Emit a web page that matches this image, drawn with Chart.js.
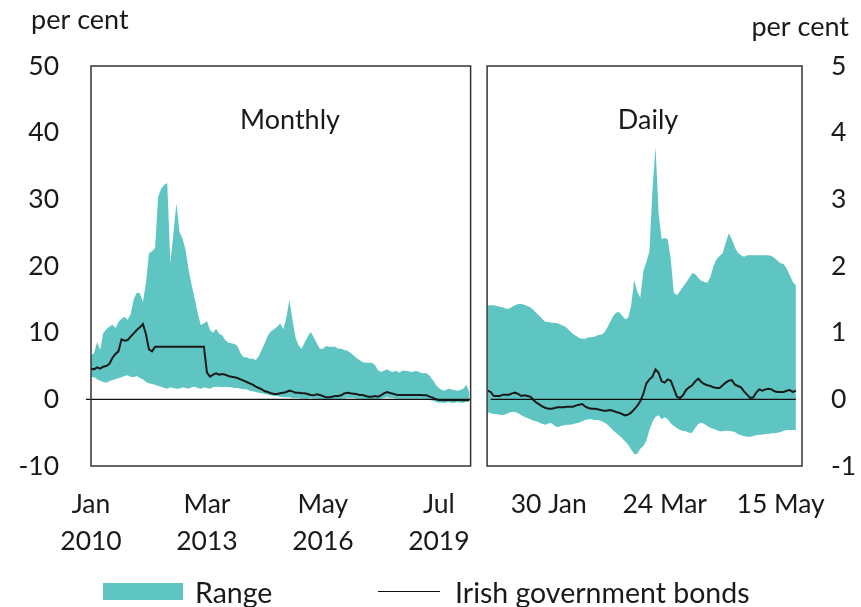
<!DOCTYPE html>
<html>
<head>
<meta charset="utf-8">
<script src="https://cdn.jsdelivr.net/npm/chart.js@4.4.1/dist/chart.umd.min.js"></script>
<style>
  body { margin: 0; background: #fff; font-family: Lato, sans-serif; color: #1a1a1a; }
  #wrap { position: relative; width: 861px; height: 607px; }
  .legend { position: absolute; left: 0; top: 578px; width: 861px; height: 28px; font-size: 28.5px; }
  .legend span { position: absolute; top: 0; line-height: 28px; }
  .box { position: absolute; left: 103px; top: 5px; width: 80px; height: 17px; background: #5ec5c2; }
  .line { position: absolute; left: 378px; top: 13px; width: 62px; height: 0; border-top: 1.5px solid #111; }
</style>
</head>
<body>
<div id="wrap">
  <canvas id="myChart"></canvas>
  <div class="legend">
    <div class="box"></div><span style="left:195px">Range</span>
    <div class="line"></div><span style="left:455px">Irish government bonds</span>
  </div>
</div>
<script>
// monthly, Jan 2010 - May 2020 (per cent, left axis)
const monthlyUpper = [
  6.6, 6.9, 8.6, 7.4, 9.9, 10.5, 10.9, 11.2, 10.7, 11.6, 12.1, 12.4, 11.9, 12.8, 15.0, 16.0, 15.9, 14.6, 17.4, 21.9,
  22.2, 22.7, 30.4, 31.6, 32.2, 32.4, 20.4, 24.9, 29.4, 25.1, 24.1, 22.4, 19.4, 17.1, 15.1, 12.9, 11.1, 11.4, 11.7, 10.4,
  10.0, 10.6, 9.8, 9.6, 8.9, 8.5, 8.4, 8.3, 8.0, 6.9, 6.3, 6.3, 6.1, 6.1, 5.9, 6.5, 7.5, 8.5, 9.6, 10.2,
  10.5, 10.9, 11.4, 10.5, 12.2, 14.9, 12.0, 9.3, 8.1, 7.6, 8.5, 9.4, 10.1, 9.3, 8.4, 7.6, 7.6, 8.0, 7.9, 7.9,
  7.9, 7.6, 7.6, 7.4, 7.3, 7.0, 6.6, 6.2, 5.9, 5.6, 5.5, 5.5, 5.5, 5.2, 4.4, 4.1, 4.3, 4.5, 4.2, 4.1,
  4.3, 4.0, 4.3, 4.3, 4.2, 4.1, 4.2, 4.2, 4.0, 3.9, 3.9, 3.5, 2.9, 2.2, 1.7, 1.4, 1.3, 1.6, 1.5, 1.4,
  1.3, 1.4, 1.6, 2.2, 1.0
]
const monthlyLower = [
  3.4, 3.3, 3.0, 2.8, 2.6, 2.5, 2.7, 2.9, 3.0, 3.2, 3.3, 3.5, 3.6, 3.4, 3.3, 3.5, 3.2, 3.0, 2.6, 2.4,
  2.3, 2.2, 2.0, 1.9, 1.7, 1.6, 1.8, 1.7, 1.6, 1.6, 1.8, 1.7, 1.6, 1.8, 1.9, 1.7, 1.6, 1.8, 1.7, 1.6,
  1.8, 1.9, 1.9, 1.8, 1.9, 1.8, 1.8, 1.7, 1.7, 1.6, 1.5, 1.5, 1.3, 1.2, 1.1, 1.0, 0.9, 0.8, 0.7, 0.6,
  0.5, 0.5, 0.4, 0.3, 0.3, 0.3, 0.2, 0.2, 0.2, 0.1, 0.1, 0.1, 0.2, 0.1, 0.1, 0.0, 0.0, 0.0, 0.0, -0.1,
  -0.1, -0.1, 0.1, 0.1, 0.2, 0.2, 0.2, 0.1, 0.1, 0.1, 0.0, 0.0, 0.0, 0.0, 0.0, 0.1, 0.2, 0.3, 0.2, 0.2,
  0.1, 0.1, 0.1, 0.1, 0.1, 0.1, 0.1, 0.1, 0.1, 0.1, 0.0, -0.1, -0.2, -0.4, -0.5, -0.5, -0.5, -0.4, -0.5, -0.5,
  -0.4, -0.5, -0.5, -0.4, -0.4
]
const monthlyIrish = [
  4.6, 4.5, 4.8, 4.6, 4.9, 5.0, 5.3, 6.2, 6.8, 7.2, 9.0, 8.8, 8.9, 9.4, 9.9, 10.4, 10.8, 11.3, 9.8, 7.5,
  7.2, 7.9, 7.9, 7.9, 7.9, 7.9, 7.9, 7.9, 7.9, 7.9, 7.9, 7.9, 7.9, 7.9, 7.9, 7.9, 7.9, 7.9, 4.0, 3.4,
  3.7, 3.9, 3.7, 3.8, 3.7, 3.5, 3.4, 3.3, 3.2, 3.0, 2.8, 2.6, 2.4, 2.2, 1.9, 1.7, 1.5, 1.2, 1.1, 0.9,
  0.8, 0.8, 0.9, 1.0, 1.1, 1.3, 1.2, 1.0, 1.0, 0.9, 0.9, 0.8, 0.65, 0.6, 0.75, 0.65, 0.5, 0.3, 0.3, 0.4,
  0.5, 0.5, 0.6, 0.9, 1.0, 0.9, 0.85, 0.8, 0.65, 0.65, 0.5, 0.4, 0.4, 0.5, 0.4, 0.6, 0.9, 1.1, 0.95, 0.85,
  0.7, 0.65, 0.65, 0.65, 0.65, 0.65, 0.65, 0.65, 0.65, 0.6, 0.6, 0.4, 0.25, 0.0, -0.1, -0.1, -0.15, -0.1, -0.1, -0.15,
  -0.1, -0.1, -0.15, -0.1, -0.1
]

// daily, 2 Jan - 22 May 2020, business days (per cent, right axis)
const dailyUpper = [
  1.41, 1.41, 1.41, 1.40, 1.39, 1.38, 1.36, 1.36, 1.39, 1.41, 1.43, 1.43, 1.42, 1.40, 1.38, 1.34, 1.29, 1.25, 1.20, 1.16,
  1.16, 1.15, 1.15, 1.14, 1.12, 1.10, 1.07, 1.02, 0.98, 0.95, 0.92, 0.91, 0.91, 0.93, 0.93, 0.94, 0.96, 0.97, 0.99, 1.06,
  1.15, 1.24, 1.30, 1.31, 1.26, 1.20, 1.22, 1.40, 1.79, 1.62, 1.52, 1.92, 2.06, 2.22, 3.14, 3.79, 2.80, 2.40, 2.42, 2.40,
  2.10, 1.60, 1.56, 1.62, 1.69, 1.75, 1.82, 1.89, 1.88, 1.82, 1.78, 1.76, 1.75, 1.84, 2.00, 2.10, 2.15, 2.19, 2.35, 2.49,
  2.40, 2.28, 2.20, 2.16, 2.14, 2.16, 2.16, 2.16, 2.16, 2.16, 2.16, 2.16, 2.16, 2.15, 2.12, 2.08, 2.04, 2.03, 1.96, 1.86,
  1.76, 1.71
]
const dailyLower = [
  -0.19, -0.21, -0.22, -0.22, -0.23, -0.24, -0.22, -0.20, -0.19, -0.19, -0.21, -0.24, -0.26, -0.28, -0.30, -0.32, -0.33, -0.35, -0.37, -0.38,
  -0.36, -0.36, -0.40, -0.42, -0.40, -0.39, -0.38, -0.38, -0.37, -0.36, -0.35, -0.33, -0.31, -0.30, -0.30, -0.31, -0.31, -0.32, -0.34, -0.37,
  -0.41, -0.46, -0.50, -0.54, -0.58, -0.63, -0.68, -0.75, -0.82, -0.82, -0.74, -0.70, -0.62, -0.46, -0.34, -0.26, -0.24, -0.30, -0.27, -0.30,
  -0.36, -0.40, -0.43, -0.46, -0.47, -0.48, -0.50, -0.50, -0.43, -0.37, -0.35, -0.37, -0.40, -0.43, -0.44, -0.46, -0.48, -0.48, -0.47, -0.47,
  -0.48, -0.49, -0.52, -0.54, -0.55, -0.56, -0.56, -0.55, -0.54, -0.53, -0.53, -0.52, -0.52, -0.51, -0.51, -0.50, -0.49, -0.47, -0.46, -0.46,
  -0.46, -0.46
]
const dailyIrish = [
  0.13, 0.11, 0.05, 0.05, 0.05, 0.07, 0.07, 0.07, 0.09, 0.10, 0.08, 0.05, 0.06, 0.05, 0.04, -0.01, -0.05, -0.08, -0.11, -0.13,
  -0.14, -0.14, -0.13, -0.12, -0.12, -0.12, -0.11, -0.11, -0.11, -0.09, -0.08, -0.07, -0.11, -0.13, -0.14, -0.14, -0.15, -0.16, -0.17, -0.17,
  -0.16, -0.17, -0.19, -0.20, -0.22, -0.24, -0.23, -0.20, -0.15, -0.10, -0.03, 0.08, 0.24, 0.30, 0.34, 0.45, 0.40, 0.27, 0.25, 0.30,
  0.28, 0.16, 0.04, 0.02, 0.06, 0.14, 0.18, 0.21, 0.27, 0.31, 0.26, 0.23, 0.21, 0.20, 0.18, 0.17, 0.17, 0.21, 0.25, 0.28,
  0.29, 0.22, 0.20, 0.18, 0.12, 0.07, 0.02, 0.03, 0.10, 0.15, 0.13, 0.15, 0.16, 0.15, 0.12, 0.11, 0.11, 0.11, 0.13, 0.14,
  0.11, 0.13
]

// tick labels and where they sit (index into the monthly / daily series)
const monthlyTickIndex = [0, 38, 76, 114]
const monthlyTickLabels = [['Jan', '2010'], ['Mar', '2013'], ['May', '2016'], ['Jul', '2019']]
const dailyTickIndex = [20, 58, 96]
const dailyTickLabels = ['30 Jan', '24 Mar', '15 May']

const DAILY_OFFSET = 130   // gap between the two panels, in x units
const X_MAX = 233
const TEAL = '#5ec5c2'
const INK = '#1a1a1a'

Chart.defaults.font.family = 'Lato'
Chart.defaults.color = INK

const tickValues = monthlyTickIndex.concat(dailyTickIndex.map(i => i + DAILY_OFFSET))
const tickText = monthlyTickLabels.concat(dailyTickLabels)

const toPoints = (arr, off) => arr.map((v, i) => ({x: i + off, y: v}))

const lineStyle = {borderColor: INK, borderWidth: 2, pointRadius: 0, fill: false, tension: 0}
const bandStyle = {borderWidth: 0, pointRadius: 0, backgroundColor: TEAL, tension: 0}

const panels = {
    id: 'panels',
    afterDatasetsDraw(chart) {
        const {ctx, chartArea: a, scales: {x, y}} = chart
        const leftEdge = x.getPixelForValue(monthlyUpper.length - 0.6)
        const rightEdge = x.getPixelForValue(DAILY_OFFSET - 0.2)
        const zero = y.getPixelForValue(0)
        ctx.save()
        ctx.strokeStyle = '#111'
        ctx.lineWidth = 1.2
        ctx.beginPath()
        ctx.moveTo(a.left - 5, zero)
        ctx.lineTo(leftEdge, zero)
        ctx.moveTo(x.getPixelForValue(DAILY_OFFSET + 1), zero)
        ctx.lineTo(x.getPixelForValue(DAILY_OFFSET + dailyUpper.length - 1), zero)
        ctx.stroke()

        ctx.strokeStyle = '#333'
        ctx.lineWidth = 1.5
        ctx.strokeRect(a.left, a.top, leftEdge - a.left, a.bottom - a.top)
        ctx.strokeRect(rightEdge, a.top, a.right - rightEdge, a.bottom - a.top)

        ctx.fillStyle = INK
        ctx.font = '27px Lato'
        ctx.textBaseline = 'middle'
        ctx.textAlign = 'center'
        ctx.fillText('Monthly', 290, 120)
        ctx.fillText('Daily', 648, 120)
        ctx.textBaseline = 'alphabetic'
        ctx.textAlign = 'left'
        ctx.fillText('per cent', 31, 29)
        ctx.textAlign = 'right'
        ctx.fillText('per cent', 849, 36)
        ctx.restore()
    }
}

const config = {
    type: 'line',
    data: {
        datasets: [
            Object.assign({label: 'Irish government bonds', data: toPoints(monthlyIrish, 0), yAxisID: 'y'}, lineStyle),
            Object.assign({label: 'Irish government bonds (daily)', data: toPoints(dailyIrish, DAILY_OFFSET), yAxisID: 'y2'}, lineStyle),
            Object.assign({label: 'Range', data: toPoints(monthlyUpper, 0), yAxisID: 'y', fill: '+1'}, bandStyle),
            Object.assign({label: 'Range low', data: toPoints(monthlyLower, 0), yAxisID: 'y', fill: false}, bandStyle),
            Object.assign({label: 'Range (daily)', data: toPoints(dailyUpper, DAILY_OFFSET), yAxisID: 'y2', fill: '+1'}, bandStyle),
            Object.assign({label: 'Range low (daily)', data: toPoints(dailyLower, DAILY_OFFSET), yAxisID: 'y2', fill: false}, bandStyle),
        ]
    },
    options: {
        responsive: true,
        maintainAspectRatio: false,
        animation: false,
        devicePixelRatio: 1,
        layout: {padding: {top: 66, bottom: 51, left: 0, right: 0}},
        plugins: {legend: {display: false}, tooltip: {enabled: false}},
        scales: {
            x: {
                type: 'linear',
                min: 0,
                max: X_MAX,
                grid: {display: false, drawTicks: false},
                border: {display: false},
                afterBuildTicks: (scale) => { scale.ticks = tickValues.map(v => ({value: v})) },
                afterFit: (scale) => { scale.height = 90 },
                ticks: {
                    autoSkip: false,
                    maxRotation: 0,
                    padding: 20,
                    font: {size: 26.5, lineHeight: 1.4},
                    callback: (v) => tickText[tickValues.indexOf(v)]
                }
            },
            y: {
                position: 'left',
                min: -10,
                max: 50,
                grid: {display: false, drawTicks: false},
                border: {display: false},
                afterFit: (scale) => { scale.width = 91 },
                ticks: {stepSize: 10, padding: 32, font: {size: 26.5}}
            },
            y2: {
                position: 'right',
                min: -1,
                max: 5,
                grid: {display: false, drawTicks: false},
                border: {display: false},
                afterFit: (scale) => { scale.width = 59 },
                ticks: {stepSize: 1, padding: 29, font: {size: 26.5}}
            }
        }
    },
    plugins: [panels]
}

const myChart = new Chart(document.getElementById('myChart'), config)
</script>
</body>
</html>
